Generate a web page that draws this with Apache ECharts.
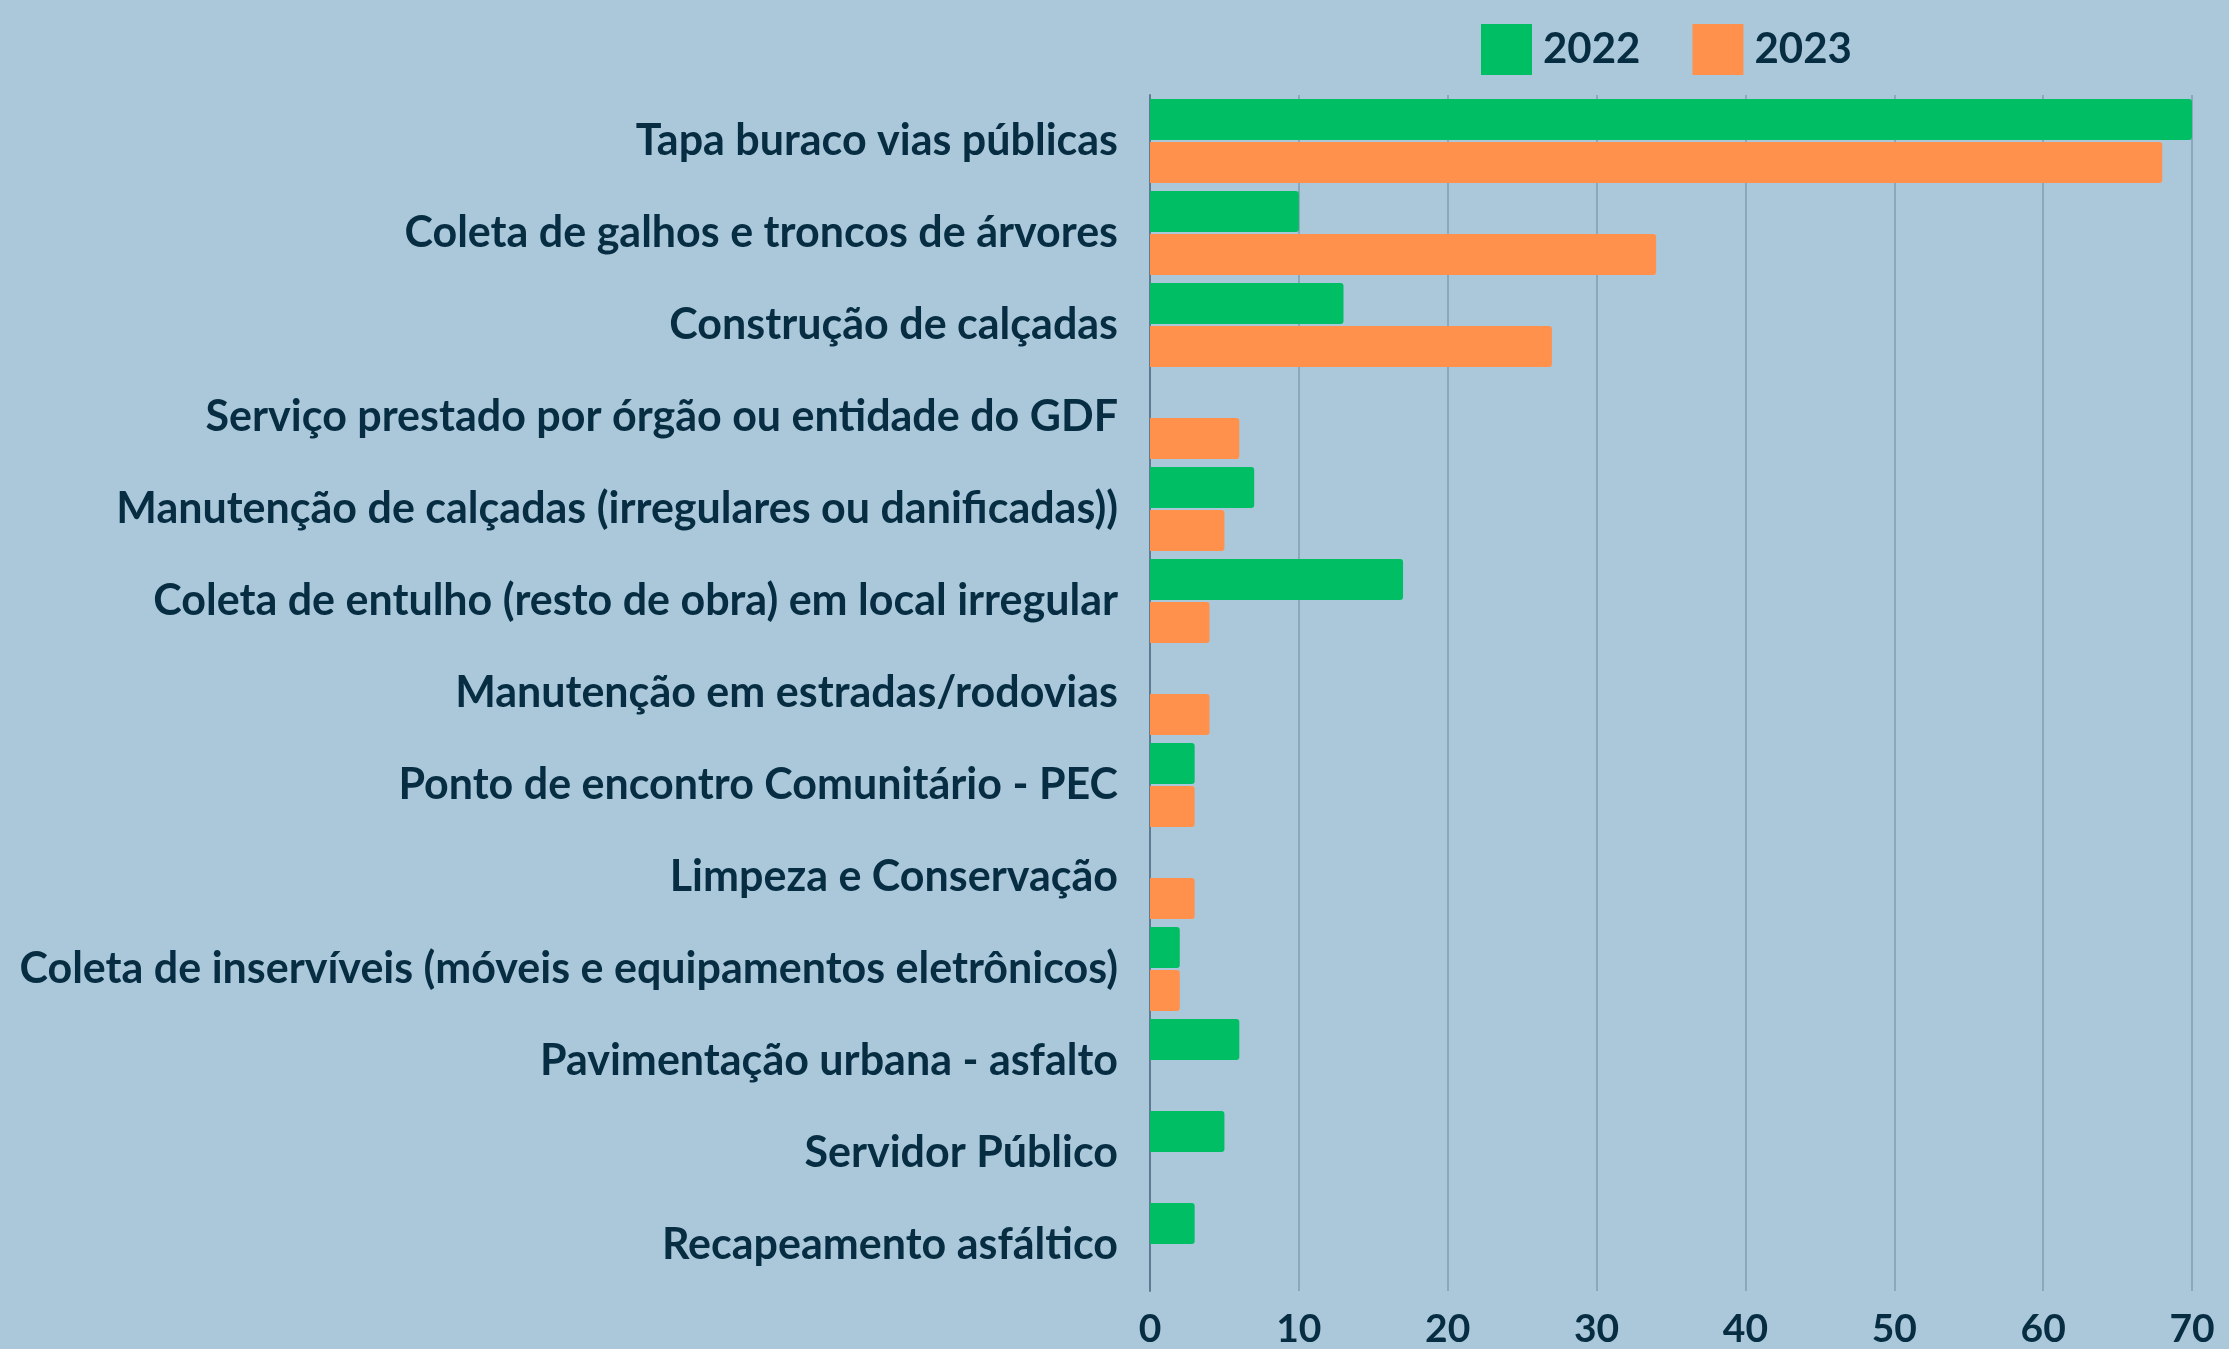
<!DOCTYPE html>
<html lang="pt">
<head>
    <meta charset="UTF-8">
    <title>Demandas 2022 x 2023</title>
    <script src="https://cdn.jsdelivr.net/npm/echarts@6/dist/echarts.min.js"></script>
</head>
<style type="text/css">
    html,body,#chart{
        width: 100%;
        height: 100%;
        margin: 0;
        padding: 0;
        background: #abc8db;
    }
</style>
<body>
<div id="chart"></div>
<script>
    var categories = [
        'Tapa buraco vias públicas',
        'Coleta de galhos e troncos de árvores',
        'Construção de calçadas',
        'Serviço prestado por órgão ou entidade do GDF',
        'Manutenção de calçadas (irregulares ou danificadas))',
        'Coleta de entulho (resto de obra) em local irregular',
        'Manutenção em estradas/rodovias',
        'Ponto de encontro Comunitário - PEC',
        'Limpeza e Conservação',
        'Coleta de inservíveis (móveis e equipamentos eletrônicos)',
        'Pavimentação urbana - asfalto',
        'Servidor Público',
        'Recapeamento asfáltico'
    ];
    var values2022 = [70, 10, 13, 0, 7, 17, 0, 3, 0, 2, 6, 5, 3];
    var values2023 = [68, 34, 27, 6, 5, 4, 4, 3, 3, 2, 0, 0, 0];
    var xTicks = [0, 10, 20, 30, 40, 50, 60, 70];

    var textColor = '#072d42';
    var myChart = echarts.init(document.getElementById('chart'));
    var options = {
        backgroundColor: '#abc8db',
        animation: false,
        legend: {
            top: 19,
            left: 1476,
            itemWidth: 51,
            itemHeight: 51,
            itemGap: 52,
            icon: 'rect',
            textStyle: {
                color: textColor,
                fontFamily: 'Lato',
                fontWeight: 'bold',
                fontSize: 42,
                padding: [0, 0, 0, 6]
            },
            data: ['2022', '2023']
        },
        grid: {
            left: 1150,
            right: 37,
            top: 95,
            bottom: 50,
            containLabel: false
        },
        xAxis: {
            type: 'value',
            min: xTicks[0],
            max: xTicks[xTicks.length - 1],
            interval: 10,
            axisLine: { show: false },
            axisTick: { show: false },
            splitLine: {
                show: true,
                lineStyle: { color: '#7f9cb2', width: 1.5 }
            },
            axisLabel: {
                color: textColor,
                fontFamily: 'Lato',
                fontWeight: 'bold',
                fontSize: 39,
                margin: 19
            }
        },
        yAxis: {
            type: 'category',
            inverse: true,
            data: categories,
            axisLine: {
                show: true,
                lineStyle: { color: '#5e7b91', width: 2 }
            },
            axisTick: { show: false },
            axisLabel: {
                color: textColor,
                fontFamily: 'Lato',
                fontWeight: 'bold',
                fontSize: 43,
                margin: 32
            }
        },
        series: [{
            name: '2022',
            type: 'bar',
            barWidth: 41,
            barGap: '5%',
            itemStyle: {
                color: '#00be64',
                borderRadius: [0, 3, 3, 0]
            },
            data: values2022
        }, {
            name: '2023',
            type: 'bar',
            barWidth: 41,
            barGap: '5%',
            itemStyle: {
                color: '#ff914d',
                borderRadius: [0, 3, 3, 0]
            },
            data: values2023
        }]
    };
    myChart.setOption(options);
</script>
</body>
</html>
